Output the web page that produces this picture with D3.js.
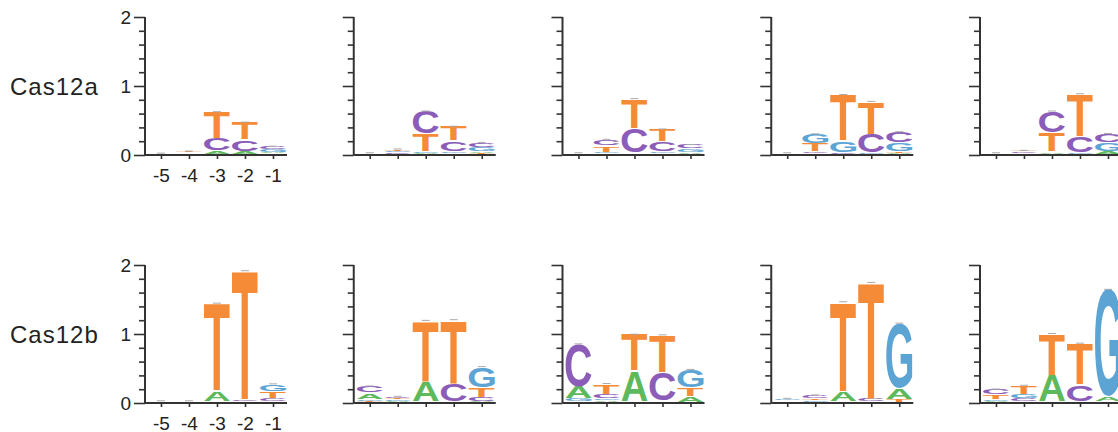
<!DOCTYPE html>
<html><head><meta charset="utf-8">
<script src="https://cdn.jsdelivr.net/npm/d3@7"></script>
<style>body{margin:0;background:#fff;}svg{display:block;}</style>
</head><body>
<svg id="chart" width="1118" height="432"></svg>
<script>
// ---- data ----
const letters = ["A", "C", "G", "T"];
const positions = ["-5", "-4", "-3", "-2", "-1"];
const rowLabels = ["Cas12a", "Cas12b"];
const yTickLabels = ["0", "1", "2"];
// each panel: 5 positions x [A, C, G, T] heights in bits
const a1 = [[0.005,0.005,0.005,0.005],[0.01,0.01,0.01,0.02],[0.05,0.18,0.01,0.38],[0.04,0.17,0.01,0.25],[0.02,0.045,0.04,0.015]];
const a2 = [[0.005,0.005,0.005,0.01],[0.01,0.02,0.02,0.03],[0.02,0.33,0.02,0.26],[0.015,0.15,0.035,0.21],[0.03,0.065,0.06,0.02]];
const a3 = [[0.005,0.005,0.005,0.01],[0.015,0.095,0.02,0.09],[0.01,0.36,0.01,0.43],[0.01,0.15,0.03,0.18],[0.02,0.06,0.055,0.01]];
const a4 = [[0.005,0.005,0.005,0.01],[0.01,0.03,0.14,0.12],[0.01,0.02,0.17,0.67],[0.01,0.27,0.02,0.47],[0.02,0.16,0.12,0.03]];
const a5 = [[0.005,0.005,0.005,0.01],[0.01,0.02,0.01,0.02],[0.03,0.31,0.01,0.28],[0.01,0.24,0.02,0.61],[0.04,0.13,0.125,0.01]];
const b1 = [[0.005,0.005,0.01,0.005],[0.005,0.005,0.01,0.005],[0.15,0.01,0.01,1.27],[0.01,0.02,0.01,1.87],[0.01,0.05,0.11,0.1]];
const b2 = [[0.09,0.1,0.03,0.02],[0.02,0.03,0.02,0.02],[0.29,0.01,0.01,0.88],[0.01,0.26,0.01,0.92],[0.02,0.06,0.3,0.14]];
const b3 = [[0.17,0.62,0.05,0.01],[0.025,0.07,0.03,0.15],[0.44,0.01,0.01,0.53],[0.01,0.42,0.01,0.54],[0.08,0.01,0.26,0.13]];
const b4 = [[0.01,0.01,0.03,0.01],[0.01,0.05,0.02,0.03],[0.14,0.01,0.01,1.3],[0.01,0.04,0.01,1.68],[0.16,0.01,0.94,0.04]];
const b5 = [[0.02,0.08,0.02,0.075],[0.01,0.05,0.06,0.13],[0.38,0.01,0.01,0.6],[0.01,0.24,0.01,0.6],[0.06,0.01,1.56,0.01]];
const rows = [[a1, a2, a3, a4, a5], [b1, b2, b3, b4, b5]];

// ---- style ----
const colors = {A: "#5DB95B", C: "#8B5DB8", G: "#5BA4D4", T: "#F68B37"};
const FONT = "'Liberation Sans', Arial, Helvetica, sans-serif";
const axisColor = "#333";

const svg = d3.select("#chart");
const panelX0 = 145, panelDX = 208.75;
const rowY0 = [155, 403];
const plotH = 138;

// glyph metrics via canvas
const cv = document.createElement("canvas").getContext("2d");
const GF = 100;
cv.font = `bold ${GF}px ${FONT}`;
const metrics = {};
letters.forEach(l => {
  const m = cv.measureText(l);
  metrics[l] = {L: m.actualBoundingBoxLeft, R: m.actualBoundingBoxRight, asc: m.actualBoundingBoxAscent, desc: m.actualBoundingBoxDescent};
});

rows.forEach((panels, r) => {
  const y0 = rowY0[r];
  const y = d3.scaleLinear().domain([0, 2]).range([y0, y0 - plotH]);
  // row label
  svg.append("text").attr("x", 10).attr("y", y(1) + 9)
    .attr("font-family", FONT).attr("font-size", 24).attr("letter-spacing", 1)
    .attr("fill", "#222").text(rowLabels[r]);

  panels.forEach((data, p) => {
    const ax = panelX0 + panelDX * p;
    const x = d3.scaleLinear().domain([0.43, 5.5]).range([ax, ax + 142]);
    const g = svg.append("g");

    // letter stacks
    const w = 26;
    data.forEach((vals, i) => {
      const cx = x(i + 1);
      const items = letters.map((l, k) => ({l, v: vals[k]})).sort((a, b) => a.v - b.v);
      let cum = 0;
      items.forEach(it => {
        const yb = y(cum), yt = y(cum + it.v);
        cum += it.v;
        const h = yb - yt;
        if (h < 0.6) return;
        const m = metrics[it.l];
        const sx = w / (m.L + m.R);
        const sy = Math.max(h - 0.8, 0.4) / (m.asc + m.desc);
        g.append("text")
          .attr("font-family", FONT).attr("font-weight", "bold").attr("font-size", GF)
          .attr("fill", colors[it.l])
          .attr("transform", `translate(${cx - w / 2 + sx * m.L},${yt + sy * m.asc}) scale(${sx},${sy})`)
          .text(it.l);
      });
      // small grey cap (error bar)
      const total = d3.sum(vals);
      g.append("line").attr("x1", cx - 4).attr("x2", cx + 4)
        .attr("y1", y(total) - 0.5).attr("y2", y(total) - 0.5)
        .attr("stroke", "#aaa").attr("stroke-width", 1);
    });

    // y axis
    const yAxis = d3.axisLeft(y).tickValues(d3.range(0, 2.001, 0.2))
      .tickSize(6).tickFormat("");
    const ya = g.append("g").attr("transform", `translate(${ax},0)`).call(yAxis);
    ya.selectAll("line").attr("stroke", axisColor).attr("stroke-width", 1.6)
      .attr("x2", d => (Math.abs(d - Math.round(d)) < 1e-6) ? -11 : -6);
    ya.select(".domain").attr("stroke", axisColor).attr("stroke-width", 2).attr("d", `M0,${y(2)}V${y(0)}`);
    if (p === 0) {
      yTickLabels.forEach((t, k) => {
        g.append("text").attr("x", ax - 14).attr("y", y(+t) + 7)
          .attr("text-anchor", "end").attr("font-family", FONT).attr("font-size", 19)
          .attr("fill", "#222").text(t);
      });
    }

    // x axis
    const xAxis = d3.axisBottom(x).tickValues([1, 2, 3, 4, 5]).tickSize(4)
      .tickFormat((d, k) => p === 0 ? positions[k] : "");
    const xa = g.append("g").attr("transform", `translate(0,${y0})`).call(xAxis);
    xa.select(".domain").attr("stroke", axisColor).attr("stroke-width", 2).attr("d", `M${ax},0H${ax + 142}`);
    xa.selectAll("line").attr("stroke", axisColor).attr("stroke-width", 1.6);
    xa.selectAll("text").attr("font-family", FONT).attr("font-size", 19).attr("fill", "#222")
      .attr("y", 0).attr("dy", null).attr("transform", "translate(0,27)");
  });
});
</script>
</body></html>
